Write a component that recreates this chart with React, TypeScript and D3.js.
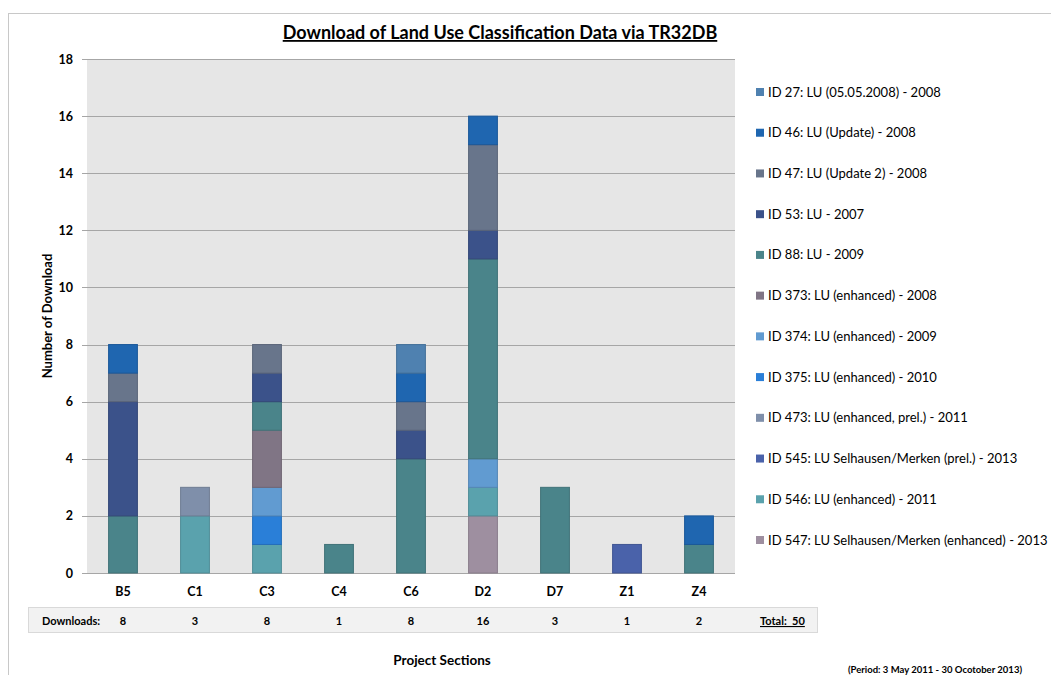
import React from 'react';
import * as d3 from 'd3';

const categories = ['B5', 'C1', 'C3', 'C4', 'C6', 'D2', 'D7', 'Z1', 'Z4'];

// Legend order (top to bottom)
const seriesNames = [
  'ID 27: LU (05.05.2008) - 2008',
  'ID 46: LU (Update) - 2008',
  'ID 47: LU (Update 2) - 2008',
  'ID 53: LU - 2007',
  'ID 88: LU - 2009',
  'ID 373: LU (enhanced) - 2008',
  'ID 374: LU (enhanced) - 2009',
  'ID 375: LU (enhanced) - 2010',
  'ID 473: LU (enhanced, prel.) - 2011',
  'ID 545: LU Selhausen/Merken (prel.) - 2013',
  'ID 546: LU (enhanced) - 2011',
  'ID 547: LU Selhausen/Merken (enhanced) - 2013',
];

const seriesColors = [
  '#4f81b0', '#1f66b0', '#68758b', '#3b528a', '#4a848a', '#807585',
  '#619bd1', '#2a7fd8', '#7f8faa', '#4a62aa', '#5aa2ad', '#9e8fa0',
];

const id27 = [0, 0, 0, 0, 1, 0, 0, 0, 0];
const id46 = [1, 0, 0, 0, 1, 1, 0, 0, 1];
const id47 = [1, 0, 1, 0, 1, 3, 0, 0, 0];
const id53 = [4, 0, 1, 0, 1, 1, 0, 0, 0];
const id88 = [2, 0, 1, 1, 4, 7, 3, 0, 1];
const id373 = [0, 0, 2, 0, 0, 0, 0, 0, 0];
const id374 = [0, 0, 1, 0, 0, 1, 0, 0, 0];
const id375 = [0, 0, 1, 0, 0, 0, 0, 0, 0];
const id473 = [0, 1, 0, 0, 0, 0, 0, 0, 0];
const id545 = [0, 0, 0, 0, 0, 0, 0, 1, 0];
const id546 = [0, 2, 1, 0, 0, 1, 0, 0, 0];
const id547 = [0, 0, 0, 0, 0, 2, 0, 0, 0];

const seriesValues = [id27, id46, id47, id53, id88, id373, id374, id375, id473, id545, id546, id547];

const yTicks = [0, 2, 4, 6, 8, 10, 12, 14, 16, 18];

const FONT = 'Lato, "Liberation Sans", sans-serif';

export default function App() {
  const W = 1051, H = 675;
  const left = 87, right = 735, top = 59, bottom = 573;

  const x = d3.scaleBand<string>().domain(categories).range([left, right]).paddingInner(0.6).paddingOuter(0.3);
  const y = d3.scaleLinear().domain([0, 18]).range([bottom, top]);

  const rows = categories.map((c, i) => {
    const r: any = { cat: c };
    seriesNames.forEach((s, k) => (r[s] = seriesValues[k][i]));
    return r;
  });
  const stackKeys = [...seriesNames].reverse();
  const stacked = d3.stack<any>().keys(stackKeys)(rows);
  const colorOf = (name: string) => seriesColors[seriesNames.indexOf(name)];
  const totals = categories.map((_, i) => d3.sum(seriesValues, (s) => s[i]));
  const grand = d3.sum(totals);

  const legendY = d3.scalePoint<string>().domain(seriesNames).range([92, 540]);

  return (
    <svg width={W} height={H} style={{ position: 'absolute', left: 0, top: 0, background: '#fff' }} fontFamily={FONT}>
      <line x1={8} y1={13.5} x2={W} y2={13.5} stroke="#c8c8c8" />
      <line x1={8.5} y1={13} x2={8.5} y2={H} stroke="#c8c8c8" />

      <text x={500} y={39} textAnchor="middle" fontSize={18} fontWeight="bold" textDecoration="underline" fill="#000">
        Download of Land Use Classification Data via TR32DB
      </text>

      <rect x={left} y={top} width={right - left} height={bottom - top} fill="#e6e6e6" />
      {yTicks.map((t) => (
        <g key={t}>
          <line x1={82} x2={right} y1={Math.round(y(t)) + 0.5} y2={Math.round(y(t)) + 0.5} stroke="#a6a6a6" />
          <text x={73} y={y(t) + 4.5} textAnchor="end" fontSize={12.5} fontWeight="bold" fill="#000">{t}</text>
        </g>
      ))}

      {stacked.map((layer) => (
        <g key={layer.key} fill={colorOf(layer.key)}>
          {layer.map((d, i) =>
            d[1] - d[0] > 0 ? (
              <rect
                key={i}
                x={x(categories[i])}
                y={y(d[1])}
                width={x.bandwidth()}
                height={y(d[0]) - y(d[1])}
                stroke={d3.color(colorOf(layer.key))!.darker(0.4).toString()}
                strokeWidth={1}
              />
            ) : null
          )}
        </g>
      ))}

      {categories.map((c) => (
        <text key={c} x={x(c)! + x.bandwidth() / 2} y={596} textAnchor="middle" fontSize={12.5} fontWeight="bold" fill="#000">{c}</text>
      ))}

      <text transform={`translate(52,${(top + bottom) / 2}) rotate(-90)`} textAnchor="middle" fontSize={13} fontWeight="bold" fill="#000">
        Number of Download
      </text>

      <rect x={28.5} y={607.5} width={789} height={25} fill="#f2f2f2" stroke="#d9d9d9" />
      <text x={42} y={625} fontSize={11} fontWeight="bold" fill="#000">Downloads:</text>
      {categories.map((c, i) => (
        <text key={c} x={x(c)! + x.bandwidth() / 2} y={625} textAnchor="middle" fontSize={11} fontWeight="bold" fill="#000">{totals[i]}</text>
      ))}
      <text x={760} y={625} fontSize={11} fontWeight="bold" fill="#000" textDecoration="underline" style={{ whiteSpace: 'pre' }}>
        {`Total:  ${grand}`}
      </text>

      <text x={442} y={665} textAnchor="middle" fontSize={13.5} fontWeight="bold" fill="#000">Project Sections</text>
      <text x={1022} y={673} textAnchor="end" fontSize={9.5} fontWeight="bold" fill="#000">(Period: 3 May 2011 - 30 Ocotober 2013)</text>

      {seriesNames.map((s, k) => (
        <g key={s}>
          <rect x={756} y={legendY(s)! - 4} width={8} height={8} fill={seriesColors[k]} />
          <text x={768} y={legendY(s)! + 4.5} fontSize={13} fill="#000">{s}</text>
        </g>
      ))}
    </svg>
  );
}
